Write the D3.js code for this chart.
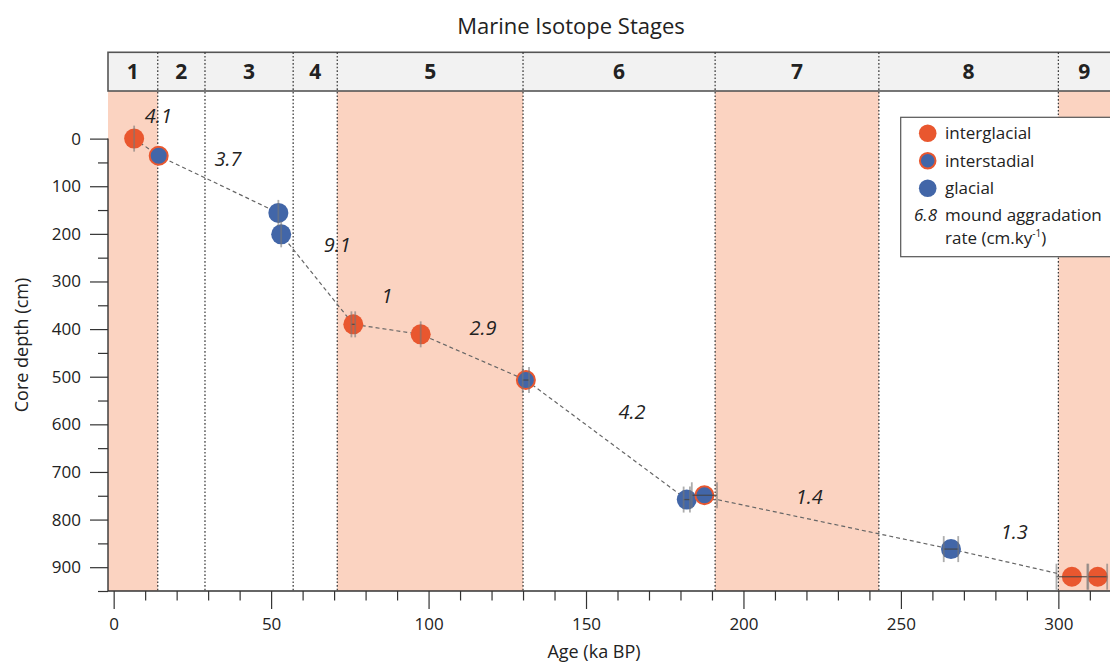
<!DOCTYPE html>
<html>
<head>
<meta charset="utf-8">
<script src="https://cdn.jsdelivr.net/npm/d3@7"></script>
<style>
  html, body { margin: 0; padding: 0; background: #fff; overflow: hidden; }
  svg { display: block; font-family: "Open Sans", "Noto Sans", sans-serif; }
</style>
</head>
<body>
<svg id="chart" width="1110" height="663"></svg>
<script>
// Marine Isotope Stages: number, start / end age (ka BP), warm (interglacial) or not
const stageNames = ["1", "2", "3", "4", "5", "6", "7", "8", "9"];
const stageStart = [0, 14, 29, 57, 71, 130, 191, 243, 300];
const stageEnd   = [14, 29, 57, 71, 130, 191, 243, 300, 337];
const stageWarm  = [true, false, false, false, true, false, true, false, true];

// Dated samples: age (ka BP), core depth (cm), climate state, age uncertainty (ka)
const sampleAges   = [6.5, 14.3, 52.3, 53.2, 76.1, 97.5, 130.9, 182.0, 187.6, 265.9, 304.3, 312.5];
const sampleDepths = [0, 36, 156, 201, 390, 411, 507, 758, 749, 862, 920, 920];
const sampleClimate = ["interglacial", "interstadial", "glacial", "glacial", "interglacial", "interglacial",
                       "interstadial", "glacial", "interstadial", "glacial", "interglacial", "interglacial"];
const sampleAgeErr = [0, null, 0, 0, 0.6, 0, 1.0, 1.0, 4.0, 2.3, 4.9, 3.0];

// Age-depth model vertices
const modelAges   = [6.5, 14.3, 52.3, 53.2, 76.1, 97.5, 130.9, 182.0, 191.6, 265.9, 299.6];
const modelDepths = [0, 36, 156, 201, 390, 411, 507, 758, 758, 862, 913];

// Mound aggradation rates (cm/ky) and where each is written
const rateLabels = ["4.1", "3.7", "9.1", "1", "2.9", "4.2", "1.4", "1.3"];
const rateAges   = [14.2, 36.3, 71, 86.8, 117.3, 164.6, 220.9, 286];
const rateDepths = [-47, 42, 224, 331, 398, 574, 752, 826];

// Axis ticks
const xMajorTicks = [0, 50, 100, 150, 200, 250, 300];
const xMinorTicks = [10, 20, 30, 40, 60, 70, 80, 90, 110, 120, 130, 140, 160, 170, 180, 190,
                     210, 220, 230, 240, 260, 270, 280, 290, 310];
const yMajorTicks = [0, 100, 200, 300, 400, 500, 600, 700, 800, 900];
const yMinorTicks = [50, 150, 250, 350, 450, 550, 650, 750, 850, 950];

// Legend entries
const legendKeys = ["interglacial", "interstadial", "glacial"];

// ---- layout & style ----
const W = 1110, H = 663;
const left = 108, right = 1110, barTop = 52.3, plotTop = 91, plotBottom = 591;
const ORANGE = "#E9572F", BLUE = "#4266A8", PINK = "#FBD3C1", INK = "#222";
const R = 10;

const svg = d3.select("#chart");

const x = d3.scaleLinear().domain([-1.8, 316.4]).range([left, right]);
const y = d3.scaleLinear().domain([-100, 950]).range([plotTop, plotBottom]);

// Title
svg.append("text")
  .attr("x", 571).attr("y", 34)
  .attr("text-anchor", "middle")
  .attr("font-size", 22).attr("fill", INK)
  .text("Marine Isotope Stages");

// Stage shading in the plot area
const stages = stageNames.map((n, i) => ({
  name: n, start: stageStart[i], end: stageEnd[i], warm: stageWarm[i],
  x0: i === 0 ? left : Math.max(left, x(stageStart[i])),
  x1: Math.min(right, x(stageEnd[i]))
}));

svg.append("g").selectAll("rect")
  .data(stages.filter(s => s.warm))
  .join("rect")
  .attr("x", s => s.x0).attr("y", plotTop)
  .attr("width", s => s.x1 - s.x0).attr("height", plotBottom - plotTop)
  .attr("fill", PINK);

// Stage header bar
svg.append("rect")
  .attr("x", left).attr("y", barTop)
  .attr("width", W - left + 10).attr("height", plotTop - barTop)
  .attr("fill", "#F2F2F2").attr("stroke", "#555").attr("stroke-width", 1.6);

svg.append("g").selectAll("text")
  .data(stages)
  .join("text")
  .attr("x", s => (s.x0 + s.x1) / 2)
  .attr("y", (barTop + plotTop) / 2)
  .attr("dy", "0.36em")
  .attr("text-anchor", "middle")
  .attr("font-size", 21).attr("font-weight", "bold").attr("fill", INK)
  .text(s => s.name);

// Dotted stage boundaries
svg.append("g").selectAll("line")
  .data(stageStart.slice(1))
  .join("line")
  .attr("x1", d => x(d)).attr("x2", d => x(d))
  .attr("y1", barTop).attr("y2", plotBottom)
  .attr("stroke", "#333").attr("stroke-width", 1.2)
  .attr("stroke-dasharray", "1.6,2");

// Axes
const axisStyle = g => {
  g.select(".domain").remove();
  g.selectAll(".tick line").attr("stroke", "#333").attr("stroke-width", 1.2);
  g.selectAll(".tick text").attr("fill", INK).attr("font-size", 17)
    .attr("font-family", "\"Open Sans\", \"Noto Sans\", sans-serif");
};

svg.append("g").attr("transform", `translate(0,${plotBottom})`)
  .call(d3.axisBottom(x).tickValues(xMajorTicks).tickSize(18).tickPadding(9).tickFormat(d3.format("d")))
  .call(axisStyle);
svg.append("g").attr("transform", `translate(0,${plotBottom})`)
  .call(d3.axisBottom(x).tickValues(xMinorTicks).tickSize(9.5).tickFormat(""))
  .call(axisStyle);

svg.append("g").attr("transform", `translate(${left},0)`)
  .call(d3.axisLeft(y).tickValues(yMajorTicks).tickSize(18).tickPadding(9).tickFormat(d3.format("d")))
  .call(axisStyle);
svg.append("g").attr("transform", `translate(${left},0)`)
  .call(d3.axisLeft(y).tickValues(yMinorTicks).tickSize(10).tickFormat(""))
  .call(axisStyle);

svg.append("line")
  .attr("x1", left).attr("x2", right).attr("y1", plotBottom).attr("y2", plotBottom)
  .attr("stroke", "#333").attr("stroke-width", 1.4);
svg.append("line")
  .attr("x1", left).attr("x2", left).attr("y1", y(0)).attr("y2", y(950))
  .attr("stroke", "#333").attr("stroke-width", 1.4);

// Axis titles
svg.append("text")
  .attr("x", 594).attr("y", 658)
  .attr("text-anchor", "middle").attr("font-size", 18).attr("fill", INK)
  .text("Age (ka BP)");
svg.append("text")
  .attr("transform", "translate(28,345) rotate(-90)")
  .attr("text-anchor", "middle").attr("font-size", 18).attr("fill", INK)
  .text("Core depth (cm)");

// Age-depth model line
const model = modelAges.map((a, i) => [a, modelDepths[i]]);
svg.append("path")
  .attr("d", d3.line().x(d => x(d[0])).y(d => y(d[1]))(model))
  .attr("fill", "none").attr("stroke", "#666").attr("stroke-width", 1.2)
  .attr("stroke-dasharray", "4,3");

// Samples
const samples = sampleAges.map((a, i) => ({
  age: a, depth: sampleDepths[i], climate: sampleClimate[i], err: sampleAgeErr[i]
}));

svg.append("g").selectAll("circle")
  .data(samples)
  .join("circle")
  .attr("cx", d => x(d.age)).attr("cy", d => y(d.depth))
  .attr("r", d => d.climate === "interstadial" ? R - 1 : R)
  .attr("fill", d => d.climate === "interglacial" ? ORANGE : BLUE)
  .attr("stroke", d => d.climate === "interstadial" ? ORANGE : "none")
  .attr("stroke-width", 2);

// Age uncertainty bars with caps
const CAP = 13;
const errs = samples.filter(d => d.err !== null);
const eg = svg.append("g");
eg.selectAll("line.span")
  .data(errs.filter(d => d.err > 0))
  .join("line").attr("class", "span")
  .attr("x1", d => x(d.age - d.err)).attr("x2", d => x(d.age + d.err))
  .attr("y1", d => y(d.depth)).attr("y2", d => y(d.depth))
  .attr("stroke", "#444").attr("stroke-width", 1.3).attr("stroke-opacity", 0.8);
eg.selectAll("line.cap")
  .data(errs.flatMap(d => d.err > 0
    ? [{ a: d.age - d.err, depth: d.depth }, { a: d.age + d.err, depth: d.depth }]
    : [{ a: d.age, depth: d.depth }]))
  .join("line").attr("class", "cap")
  .attr("x1", d => x(d.a)).attr("x2", d => x(d.a))
  .attr("y1", d => y(d.depth) - CAP).attr("y2", d => y(d.depth) + CAP)
  .attr("stroke", "#777").attr("stroke-width", 1.8).attr("stroke-opacity", 0.6);

// Aggradation rate labels
svg.append("g").selectAll("text")
  .data(rateLabels.map((r, i) => ({ r, a: rateAges[i], d: rateDepths[i] })))
  .join("text")
  .attr("x", d => x(d.a)).attr("y", d => y(d.d))
  .attr("dy", "0.36em").attr("text-anchor", "middle")
  .attr("font-size", 20).attr("font-style", "italic").attr("fill", INK)
  .text(d => d.r);

// Legend
const lg = svg.append("g");
lg.append("rect")
  .attr("x", 900.7).attr("y", 117.3).attr("width", 220).attr("height", 139.4)
  .attr("fill", "#fff").attr("stroke", "#555").attr("stroke-width", 1.2);
const legendY = [133.3, 160.7, 188.3];
legendKeys.forEach((k, i) => {
  lg.append("circle")
    .attr("cx", 927.7).attr("cy", legendY[i])
    .attr("r", k === "interstadial" ? 7.8 : 8.8)
    .attr("fill", k === "interglacial" ? ORANGE : BLUE)
    .attr("stroke", k === "interstadial" ? ORANGE : "none")
    .attr("stroke-width", 2);
  lg.append("text")
    .attr("x", 945).attr("y", legendY[i]).attr("dy", "0.36em")
    .attr("font-size", 17).attr("fill", INK)
    .text(k);
});
lg.append("text")
  .attr("x", 937).attr("y", 215).attr("dy", "0.36em")
  .attr("text-anchor", "end").attr("font-size", 17).attr("font-style", "italic").attr("fill", INK)
  .text("6.8");
lg.append("text")
  .attr("x", 945).attr("y", 215).attr("dy", "0.36em")
  .attr("font-size", 17).attr("fill", INK)
  .text("mound aggradation");
const rateText = lg.append("text")
  .attr("x", 945).attr("y", 238).attr("dy", "0.36em")
  .attr("font-size", 17).attr("fill", INK);
rateText.append("tspan").text("rate (cm.ky");
rateText.append("tspan").attr("font-size", 10).attr("dy", "-0.7em").text("-1");
rateText.append("tspan").attr("dy", "0.42em").text(")");
</script>
</body>
</html>
